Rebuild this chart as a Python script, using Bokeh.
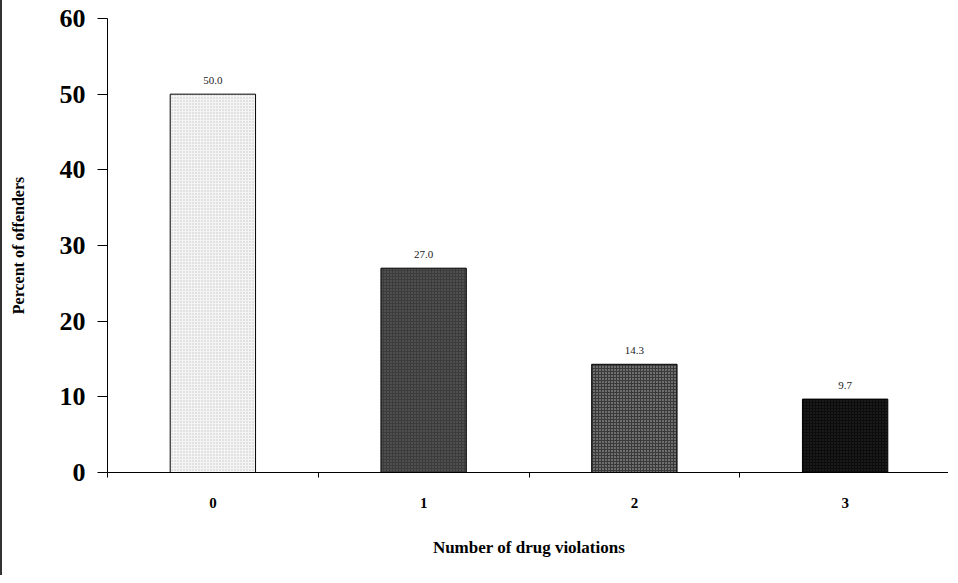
from bokeh.plotting import figure
from bokeh.models import ColumnDataSource, FixedTicker, LabelSet, Range1d
from bokeh.embed import file_html
from bokeh.resources import INLINE

categories = ["0", "1", "2", "3"]
percents = [50.0, 27.0, 14.3, 9.7]
value_labels = ["50.0", "27.0", "14.3", "9.7"]
fill_colors = ["#f4f4f4", "#3c3c3c", "#6e6e6e", "#0c0c0c"]
hatch_colors = ["#c4c4c4", "#6a6a6a", "#3a3a3a", "#2e2e2e"]
hatch_patterns = ["dot", "dot", "cross", "dot"]
y_ticks = [0, 10, 20, 30, 40, 50, 60]

xs = list(range(len(categories)))
src = ColumnDataSource(dict(x=xs, top=percents, lab=value_labels, fc=fill_colors,
                            hc=hatch_colors, hp=hatch_patterns))

p = figure(width=948, height=575, output_backend="svg", toolbar_location=None,
           x_range=Range1d(-0.5, len(categories) - 0.5), y_range=Range1d(0, 60),
           min_border_left=105, min_border_right=0, min_border_top=18, min_border_bottom=103)
p.styles = {"border-left": "2px solid #333333"}
p.outline_line_color = None
p.xgrid.visible = False
p.ygrid.visible = False

p.vbar(x="x", top="top", bottom=0, width=0.405, source=src, fill_color="fc",
       line_color="black", line_width=1, hatch_pattern="hp", hatch_color="hc",
       hatch_scale=3, hatch_weight=1)

labels = LabelSet(x="x", y="top", text="lab", source=src, text_align="center",
                  text_baseline="bottom", y_offset=10, text_font="Liberation Serif",
                  text_font_size="11px", text_color="#222222")
p.add_layout(labels)

font = "Liberation Serif"
p.xaxis.ticker = FixedTicker(ticks=xs, minor_ticks=[x - 0.5 for x in xs] + [xs[-1] + 0.5])
p.xaxis.major_label_overrides = {i: c for i, c in zip(xs, categories)}
p.xaxis.major_tick_out = 0
p.xaxis.major_tick_in = 0
p.xaxis.minor_tick_out = 5
p.xaxis.minor_tick_in = 0
p.xaxis.minor_tick_line_color = "black"
p.xaxis.axis_line_color = "black"
p.xaxis.major_label_standoff = 20
p.xaxis.major_label_text_font = font
p.xaxis.major_label_text_font_style = "bold"
p.xaxis.major_label_text_font_size = "15px"
p.xaxis.major_label_text_color = "black"
p.xaxis.axis_label = "Number of drug violations"
p.xaxis.axis_label_text_font = font
p.xaxis.axis_label_text_font_style = "bold"
p.xaxis.axis_label_text_font_size = "17px"
p.xaxis.axis_label_text_color = "black"
p.xaxis.axis_label_standoff = 27

p.yaxis.ticker = FixedTicker(ticks=y_ticks, minor_ticks=[])
p.yaxis.major_tick_out = 10
p.yaxis.major_tick_in = 0
p.yaxis.axis_line_color = "black"
p.yaxis.major_tick_line_color = "black"
p.yaxis.major_label_standoff = 12
p.yaxis.major_label_text_font = font
p.yaxis.major_label_text_font_style = "bold"
p.yaxis.major_label_text_font_size = "26px"
p.yaxis.major_label_text_color = "black"
p.yaxis.axis_label = "Percent of offenders"
p.yaxis.axis_label_text_font = font
p.yaxis.axis_label_text_font_style = "bold"
p.yaxis.axis_label_text_font_size = "16px"
p.yaxis.axis_label_text_color = "black"
p.yaxis.axis_label_standoff = 30

open("out.html", "w").write(file_html(p, INLINE))
